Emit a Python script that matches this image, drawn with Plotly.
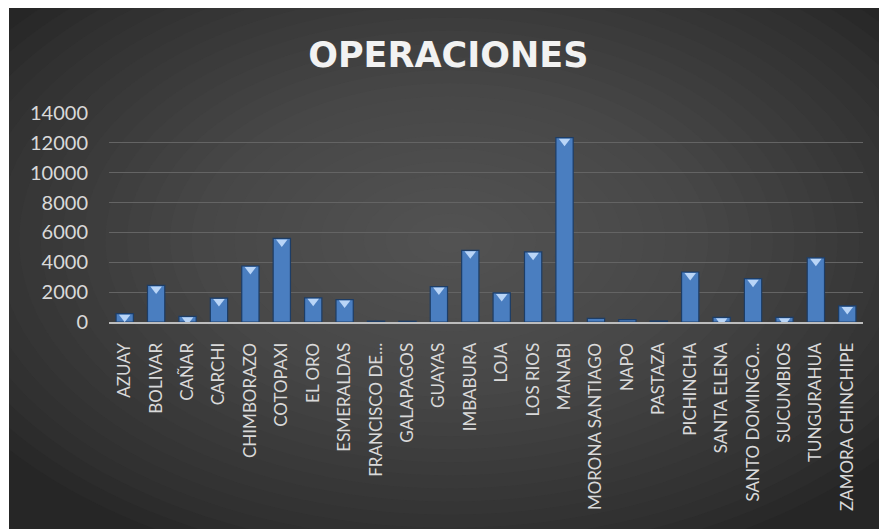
import plotly.graph_objects as go

provincias = ["AZUAY", "BOLIVAR", "CAÑAR", "CARCHI", "CHIMBORAZO", "COTOPAXI", "EL ORO",
              "ESMERALDAS", "FRANCISCO DE...", "GALAPAGOS", "GUAYAS", "IMBABURA", "LOJA",
              "LOS RIOS", "MANABI", "MORONA SANTIAGO", "NAPO", "PASTAZA", "PICHINCHA",
              "SANTA ELENA", "SANTO DOMINGO...", "SUCUMBIOS", "TUNGURAHUA", "ZAMORA CHINCHIPE"]
operaciones = [560, 2450, 380, 1600, 3750, 5600, 1620, 1500, 60, 50, 2370, 4800, 1950,
               4700, 12350, 240, 160, 70, 3350, 310, 2900, 310, 4300, 1080]
y_ticks = [0, 2000, 4000, 6000, 8000, 10000, 12000, 14000]
y_labels = [str(v) for v in y_ticks]

W, H = 879, 529
ML, MR, MT, MB = 109, 16, 113, 207
PW, PH = W - ML - MR, H - MT - MB

def px_x(p):
    return (p - ML) / PW

def px_y(p):
    return 1 - (p - MT) / PH

fig = go.Figure()

fig.add_trace(go.Bar(
    x=provincias, y=operaciones,
    marker=dict(color="#4a7ec0", line=dict(color="#1d3d66", width=1.2)),
    width=0.55, hoverinfo="x+y",
))

# bevel highlight at top of each bar
units_per_px = 14000 / PH
tri_x = [c for c, v in zip(provincias, operaciones) if v >= 300]
tri_y = [v - 3.5 * units_per_px for v in operaciones if v >= 300]
fig.add_trace(go.Scatter(
    x=tri_x, y=tri_y, mode="markers",
    marker=dict(symbol="triangle-down", size=10, color="#b9d5f7", line=dict(width=0)),
    hoverinfo="skip",
))

shapes = []
# radial glow over dark paper
cx, cy = 450, 240
n = 26
for i in range(n):
    f = 1 - i / n
    rx, ry = 560 * f, 340 * f
    shapes.append(dict(type="circle", xref="paper", yref="paper", layer="below",
                       x0=px_x(cx - rx), x1=px_x(cx + rx),
                       y0=px_y(cy + ry), y1=px_y(cy - ry),
                       fillcolor="rgba(110,110,110,0.045)", line=dict(width=0)))
# white strips at top and left
shapes.append(dict(type="rect", xref="paper", yref="paper", layer="below",
                   x0=px_x(-5), x1=px_x(W + 5), y0=px_y(8), y1=px_y(-5),
                   fillcolor="white", line=dict(width=0)))
shapes.append(dict(type="rect", xref="paper", yref="paper", layer="below",
                   x0=px_x(-5), x1=px_x(9), y0=px_y(H + 5), y1=px_y(-5),
                   fillcolor="white", line=dict(width=0)))

fig.update_layout(
    width=W, height=H,
    margin=dict(l=ML, r=MR, t=MT, b=MB, pad=0),
    paper_bgcolor="#262626", plot_bgcolor="rgba(0,0,0,0)",
    shapes=shapes,
    showlegend=False,
    bargap=0.45,
    title=dict(text="<b>OPERACIONES</b>", x=0.51, xref="container", xanchor="center",
               y=1 - 55 / H, yref="container", yanchor="middle",
               font=dict(family="DejaVu Sans", size=35, color="#f2f2f2")),
    font=dict(family="Lato", color="#d9d9d9"),
)

fig.update_yaxes(range=[0, 14000], tickvals=y_ticks, ticktext=y_labels, showgrid=True,
                 gridcolor="#646464", gridwidth=1, zeroline=False,
                 tickfont=dict(size=20, color="#d9d9d9"),
                 ticks="", ticklabelstandoff=20, showline=False, fixedrange=True)
fig.update_xaxes(tickangle=-90, showline=True, linecolor="#bdbdbd", linewidth=2,
                 tickfont=dict(size=17, color="#d9d9d9"), ticks="",
                 ticklabelstandoff=12, range=[-0.5, len(provincias) - 0.5], fixedrange=True)

fig.write_html("out.html")
